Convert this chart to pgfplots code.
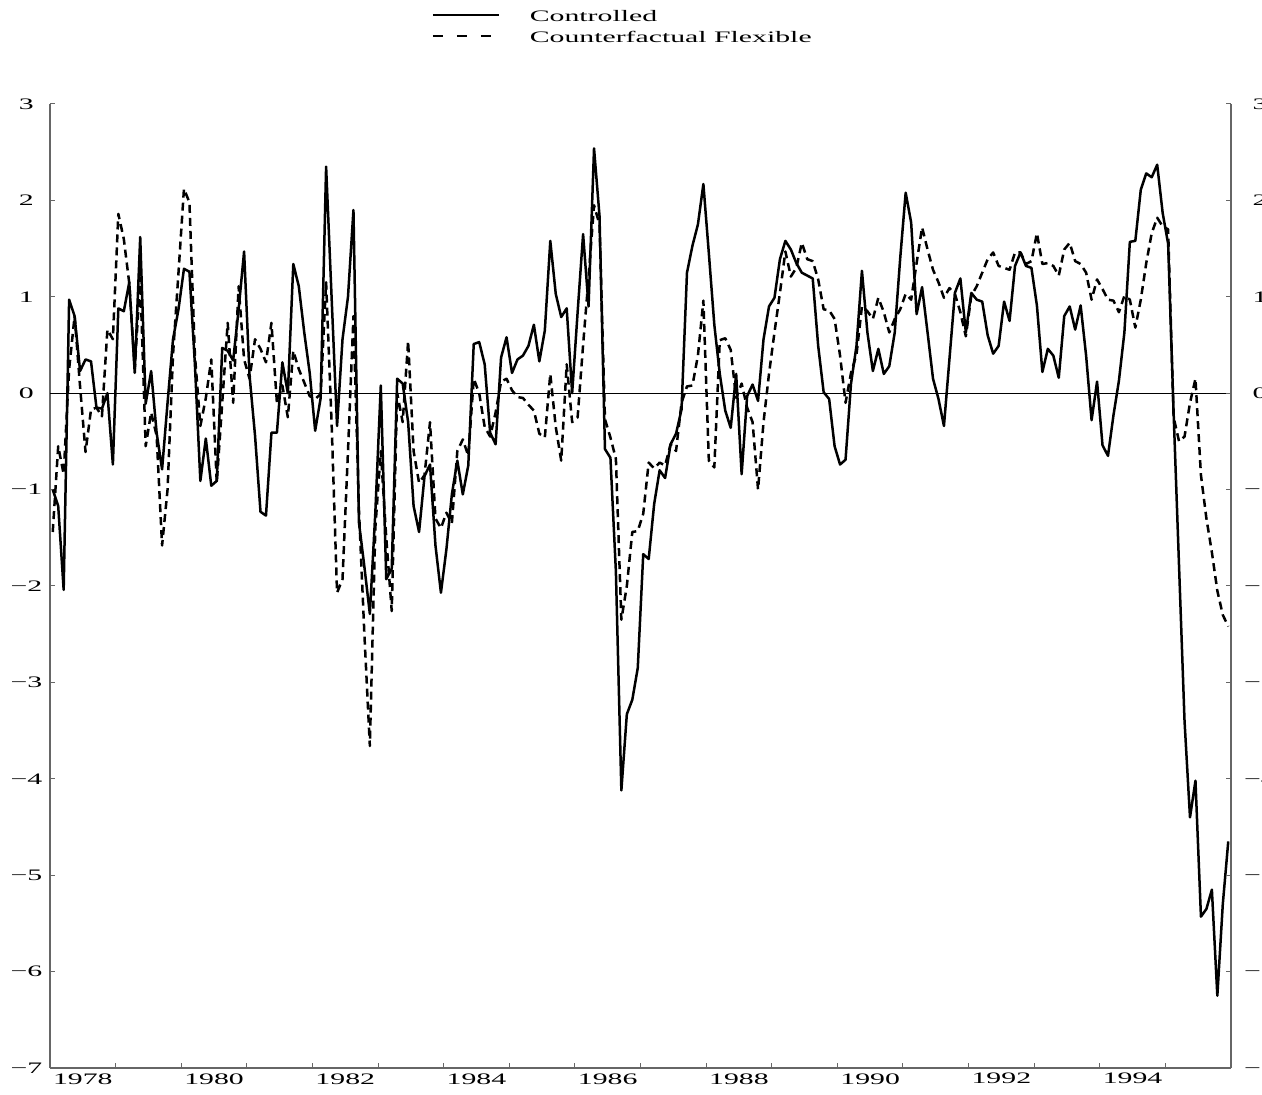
\documentclass[border=0pt]{standalone}
\usepackage{fontspec}
\newfontfamily\chartfont{Liberation Serif}[FakeStretch=1.86]
\usepackage{pgfplots}
\usepackage{pgfplotstable}
\pgfplotsset{compat=1.18}

\pgfplotstableread{
c f
-1.00 -1.44
-1.17 -0.55
-2.04 -0.84
0.97 0.25
0.80 0.80
0.23 0.07
0.35 -0.61
0.33 -0.17
-0.15 -0.15
-0.16 -0.24
0.00 0.66
-0.74 0.56
0.88 1.86
0.85 1.60
1.15 1.14
0.21 0.25
1.62 1.20
-0.11 -0.55
0.23 -0.20
-0.41 -0.44
-0.79 -1.58
-0.10 -1.00
0.56 0.40
0.87 1.25
1.29 2.12
1.26 1.98
0.30 0.40
-0.91 -0.34
-0.47 -0.05
-0.96 0.35
-0.91 -0.93
0.47 -0.10
0.44 0.73
0.34 -0.10
0.87 1.11
1.47 0.35
0.18 0.15
-0.44 0.56
-1.23 0.46
-1.27 0.32
-0.41 0.73
-0.41 -0.10
0.32 0.08
0.00 -0.25
1.34 0.44
1.11 0.25
0.63 0.11
0.21 -0.03
-0.39 -0.06
-0.05 -0.01
2.35 1.15
1.00 -0.30
-0.34 -2.07
0.56 -1.93
1.00 -0.60
1.90 0.80
-1.34 -1.20
-1.80 -2.50
-2.29 -3.66
-1.24 -1.40
0.08 -0.60
-1.93 -1.50
-1.82 -2.26
0.15 0.00
0.10 -0.30
-0.30 0.54
-1.17 -0.60
-1.44 -0.93
-0.86 -0.85
-0.74 -0.30
-1.58 -1.30
-2.07 -1.40
-1.62 -1.24
-1.05 -1.35
-0.70 -0.60
-1.05 -0.48
-0.75 -0.65
0.51 0.15
0.53 0.00
0.30 -0.35
-0.41 -0.45
-0.53 -0.20
0.37 0.12
0.58 0.15
0.21 0.03
0.35 -0.04
0.39 -0.05
0.49 -0.12
0.71 -0.18
0.33 -0.42
0.65 -0.46
1.58 0.20
1.03 -0.35
0.79 -0.70
0.88 0.30
0.00 -0.30
0.84 -0.25
1.65 0.50
0.90 1.20
2.54 1.95
1.84 1.75
-0.58 -0.27
-0.67 -0.46
-1.85 -0.68
-4.12 -2.35
-3.33 -2.00
-3.18 -1.44
-2.85 -1.43
-1.67 -1.25
-1.72 -0.72
-1.15 -0.78
-0.80 -0.72
-0.88 -0.75
-0.53 -0.53
-0.42 -0.60
-0.17 -0.10
1.25 0.07
1.53 0.08
1.75 0.39
2.17 0.96
1.45 -0.70
0.71 -0.77
0.20 0.55
-0.18 0.57
-0.36 0.45
0.20 -0.05
-0.84 0.10
-0.03 -0.15
0.09 -0.30
-0.08 -1.00
0.56 -0.30
0.90 0.20
0.99 0.63
1.39 1.04
1.58 1.47
1.49 1.21
1.35 1.30
1.25 1.56
1.22 1.39
1.19 1.37
0.49 1.18
0.01 0.87
-0.06 0.86
-0.55 0.77
-0.74 0.39
-0.69 -0.10
0.10 0.21
0.49 0.40
1.27 0.90
0.63 0.85
0.23 0.77
0.46 0.99
0.20 0.84
0.28 0.63
0.63 0.77
1.40 0.87
2.08 1.03
1.77 0.97
0.82 1.35
1.10 1.72
0.63 1.49
0.15 1.28
-0.06 1.15
-0.34 0.99
0.35 1.09
1.04 1.03
1.19 0.84
0.63 0.59
1.04 1.01
0.97 1.11
0.95 1.25
0.60 1.39
0.41 1.46
0.49 1.32
0.95 1.30
0.75 1.28
1.32 1.46
1.46 1.46
1.32 1.34
1.30 1.37
0.91 1.66
0.22 1.34
0.46 1.35
0.39 1.32
0.16 1.22
0.80 1.49
0.90 1.56
0.66 1.37
0.91 1.34
0.39 1.25
-0.28 0.97
0.12 1.18
-0.54 1.08
-0.65 0.97
-0.23 0.96
0.13 0.84
0.63 1.01
1.57 0.97
1.58 0.68
2.11 0.97
2.28 1.35
2.24 1.66
2.37 1.82
1.87 1.73
1.55 1.70
-0.20 -0.25
-1.80 -0.50
-3.40 -0.45
-4.40 -0.10
-4.02 0.15
-5.43 -0.85
-5.35 -1.30
-5.15 -1.65
-6.25 -2.05
-5.30 -2.30
-4.65 -2.42
}\datatab

\begin{document}
\begin{tikzpicture}
\begin{axis}[
  scale only axis, width=590.5pt, height=482pt,
  xmin=1978, xmax=1996, ymin=-7, ymax=3,
  axis x line*=bottom, axis y line*=left,
  axis line style={draw=black!60, line width=0.6pt},
  tick align=inside,
  major tick length=2.5pt,
  tick style={draw=black!60, line width=0.5pt},
  xtick={1979,1980,1981,1982,1983,1984,1985,1986,1987,1988,1989,1990,1991,1992,1993,1994,1995},
  xticklabels={},
  extra x ticks={1978.5,1980.5,1982.5,1984.5,1986.5,1988.5,1990.5,1992.5,1994.5},
  extra x tick labels={1978,1980,1982,1984,1986,1988,1990,1992,1994},
  extra x tick style={major tick length=0pt},
  xticklabel style={anchor=north, inner sep=0pt, yshift=-2.5pt},
  ytick={-7,-6,-5,-4,-3,-2,-1,0,1,2,3},
  yticklabels={−7,−6,−5,−4,−3,−2,−1,0,1,2,3},
  yticklabel style={anchor=center, xshift=-11.8pt, inner sep=0pt},
  ticklabel style={font=\chartfont\fontsize{8pt}{9pt}\selectfont},
  legend style={draw=none, fill=none, at={(0.3235,1.0975)}, anchor=north west,
    inner sep=0pt, outer sep=0pt,
    font=\chartfont\fontsize{8pt}{9pt}\selectfont,
    row sep=5pt, nodes={inner sep=0pt, text height=5.6pt, text depth=0pt},
    /tikz/every odd column/.append style={column sep=15pt}},
  legend cell align=left,
]
\addplot[black, line width=1.25pt, line join=round,
  legend image code/.code={\draw[black, line width=0.9pt] (0pt,0.3pt) -- (33pt,0.3pt);}]
  table[x expr={1978+(\coordindex+0.5)/12}, y=c] {\datatab};
\addlegendentry{Controlled}
\addplot[black, line width=1.25pt, line join=round, dash pattern=on 4pt off 2.5pt,
  legend image code/.code={\draw[black, line width=0.9pt, dash pattern=on 5pt off 7pt] (0pt,0.3pt) -- (33pt,0.3pt);}]
  table[x expr={1978+(\coordindex+0.5)/12}, y=f] {\datatab};
\addlegendentry{Counterfactual Flexible}
\addplot[black, line width=0.5pt, forget plot] coordinates {(1978,0) (1996,0)};
\end{axis}
\begin{axis}[
  scale only axis, width=590.5pt, height=482pt,
  xmin=1978, xmax=1996, ymin=-7, ymax=3,
  axis x line=none, axis y line*=right,
  axis line style={draw=black!60, line width=0.6pt},
  tick align=inside,
  major tick length=2.5pt,
  tick style={draw=black!60, line width=0.5pt},
  ytick={-7,-6,-5,-4,-3,-2,-1,0,1,2,3},
  yticklabels={−7,−6,−5,−4,−3,−2,−1,0,1,2,3},
  yticklabel style={anchor=center, xshift=14.5pt, inner sep=0pt},
  ticklabel style={font=\chartfont\fontsize{8pt}{9pt}\selectfont},
]
\addplot[draw=none] coordinates {(1978,0)};
\end{axis}
\pgfresetboundingbox
\useasboundingbox (-25pt,-13.5pt) rectangle (606pt,534pt);
\end{tikzpicture}
\end{document}
